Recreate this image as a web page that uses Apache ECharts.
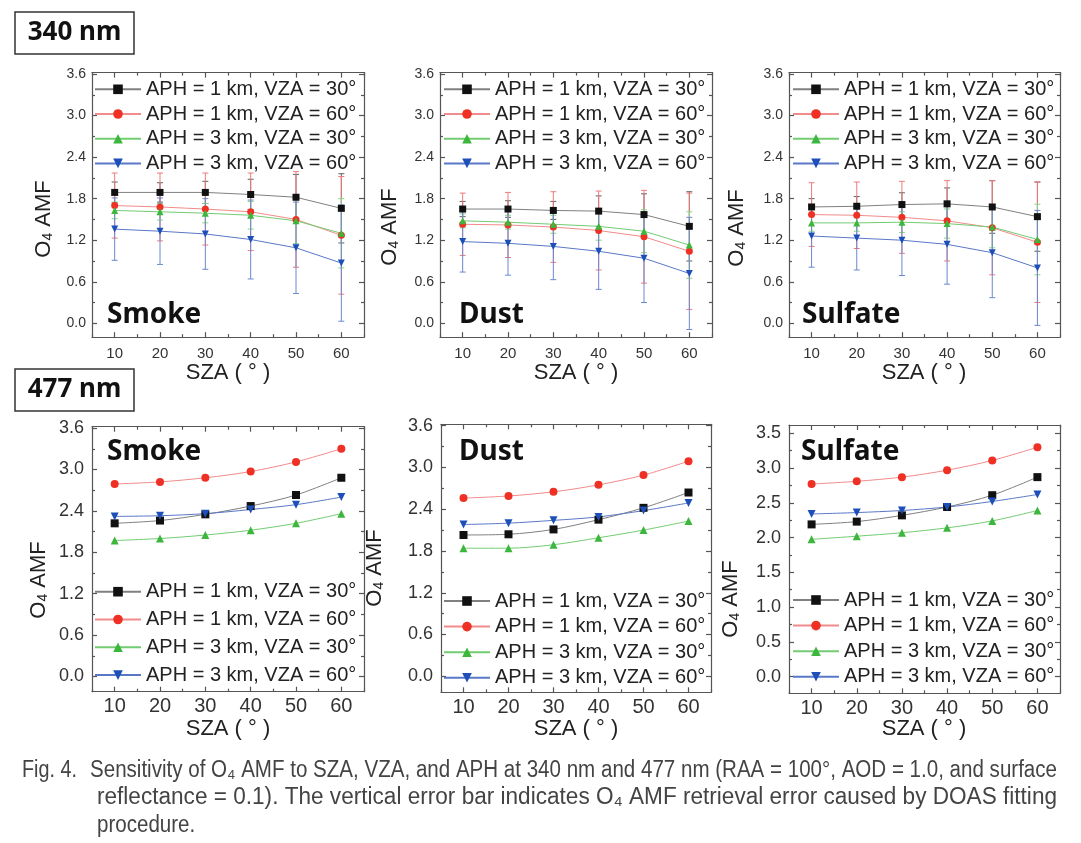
<!DOCTYPE html>
<html><head><meta charset="utf-8">
<script src="https://cdn.jsdelivr.net/npm/echarts@6/dist/echarts.min.js"></script>
<style>html,body{margin:0;padding:0;background:#fff}#c{width:1081px;height:843px}</style>
</head><body><div id="c"></div>
<script>
// ---------- data ----------
const szaValues = [10, 20, 30, 40, 50, 60];
const xMinorTicks = [5, 15, 25, 35, 45, 55, 65];
const yTicks06 = [0, 0.6, 1.2, 1.8, 2.4, 3.0, 3.6];
const yMinor06 = [0.3, 0.9, 1.5, 2.1, 2.7, 3.3];
const yTicks05 = [0, 0.5, 1.0, 1.5, 2.0, 2.5, 3.0, 3.5];
const yMinor05 = [0.25, 0.75, 1.25, 1.75, 2.25, 2.75, 3.25];
const seriesNames = ['APH = 1 km, VZA = 30°', 'APH = 1 km, VZA = 60°', 'APH = 3 km, VZA = 30°', 'APH = 3 km, VZA = 60°'];

// 340 nm – Smoke
const smoke340_1km30 = [1.89, 1.89, 1.89, 1.86, 1.82, 1.66];
const smoke340_1km60 = [1.70, 1.68, 1.65, 1.61, 1.50, 1.27];
const smoke340_3km30 = [1.63, 1.61, 1.59, 1.56, 1.48, 1.30];
const smoke340_3km60 = [1.36, 1.33, 1.29, 1.21, 1.09, 0.87];
const smoke340_1km30_err = [0.15, 0.14, 0.16, 0.22, 0.33, 0.50];
const smoke340_1km60_err = [0.47, 0.49, 0.52, 0.56, 0.69, 0.85];
const smoke340_3km30_err = [0.12, 0.12, 0.14, 0.20, 0.33, 0.50];
const smoke340_3km60_err = [0.45, 0.48, 0.51, 0.57, 0.66, 0.84];
// 340 nm – Dust
const dust340_1km30 = [1.65, 1.65, 1.63, 1.62, 1.57, 1.40];
const dust340_1km60 = [1.43, 1.42, 1.39, 1.34, 1.25, 1.04];
const dust340_3km30 = [1.48, 1.46, 1.43, 1.40, 1.33, 1.13];
const dust340_3km60 = [1.18, 1.155, 1.11, 1.04, 0.94, 0.72];
const dust340_1km30_err = [0.11, 0.12, 0.13, 0.22, 0.30, 0.50];
const dust340_1km60_err = [0.45, 0.47, 0.51, 0.57, 0.67, 0.84];
const dust340_3km30_err = [0.10, 0.10, 0.13, 0.20, 0.31, 0.48];
const dust340_3km60_err = [0.44, 0.46, 0.48, 0.55, 0.64, 0.81];
// 340 nm – Sulfate
const sulf340_1km30 = [1.68, 1.69, 1.715, 1.725, 1.68, 1.54];
const sulf340_1km60 = [1.57, 1.56, 1.53, 1.48, 1.38, 1.17];
const sulf340_3km30 = [1.45, 1.45, 1.46, 1.44, 1.39, 1.21];
const sulf340_3km60 = [1.26, 1.23, 1.20, 1.14, 1.02, 0.80];
const sulf340_1km30_err = [0.12, 0.14, 0.17, 0.23, 0.38, 0.50];
const sulf340_1km60_err = [0.46, 0.48, 0.52, 0.58, 0.68, 0.87];
const sulf340_3km30_err = [0.12, 0.12, 0.15, 0.21, 0.30, 0.51];
const sulf340_3km60_err = [0.45, 0.46, 0.51, 0.575, 0.65, 0.83];
// 477 nm
const smoke477_1km30 = [2.22, 2.26, 2.35, 2.47, 2.63, 2.88];
const smoke477_1km60 = [2.79, 2.82, 2.88, 2.97, 3.11, 3.30];
const smoke477_3km30 = [1.97, 2.00, 2.05, 2.12, 2.22, 2.36];
const smoke477_3km60 = [2.32, 2.33, 2.36, 2.42, 2.49, 2.60];
const dust477_1km30 = [2.03, 2.04, 2.11, 2.25, 2.42, 2.64];
const dust477_1km60 = [2.56, 2.59, 2.65, 2.75, 2.89, 3.09];
const dust477_3km30 = [1.84, 1.84, 1.89, 1.99, 2.10, 2.23];
const dust477_3km60 = [2.18, 2.20, 2.24, 2.29, 2.38, 2.49];
const sulf477_1km30 = [2.19, 2.23, 2.32, 2.44, 2.61, 2.87];
const sulf477_1km60 = [2.77, 2.81, 2.87, 2.97, 3.11, 3.30];
const sulf477_3km30 = [1.975, 2.02, 2.07, 2.14, 2.24, 2.39];
const sulf477_3km60 = [2.34, 2.36, 2.39, 2.44, 2.52, 2.62];

const panelLabels = ['Smoke', 'Dust', 'Sulfate', 'Smoke', 'Dust', 'Sulfate'];
const captionLine1a = 'Fig. 4.';
const captionLine1b = 'Sensitivity of O\u2084 AMF to SZA, VZA, and APH at 340 nm and 477 nm (RAA = 100°, AOD = 1.0, and surface';
const captionLine2 = 'reflectance = 0.1). The vertical error bar indicates O\u2084 AMF retrieval error caused by DOAS fitting';
const captionLine3 = 'procedure.';

// ---------- layout / style ----------
const markerColors = ['#111111', '#ee3124', '#3cb63c', '#1d4fb8'];
const lineColors = ['#808080', '#f28b8b', '#72cc72', '#5a78c8'];
const errColors = ['#606060', '#f07a7a', '#86d486', '#6a88d0'];
const symbols = ['rect', 'circle', 'triangle', 'triangle'];
const symbolRot = [0, 0, 0, 180];
const FONT = '"Liberation Sans", Arial, sans-serif';

const topY0 = 74 - 0.02 * 69.25;
const panels = [
  { grid: { left: 92, top: topY0, width: 272, height: 3.82 * 69.25 }, yMin: -0.2, yMax: 3.62, yT: yTicks06, yM: yMinor06,
    vals: [smoke340_1km30, smoke340_1km60, smoke340_3km30, smoke340_3km60],
    errs: [smoke340_1km30_err, smoke340_1km60_err, smoke340_3km30_err, smoke340_3km60_err],
    fy: 14, fx: 15, ym: 6, xm: 9, sym: 7, smooth: false,
    legend: { left: 94, top: 79.3, gap: 4.7 }, label: [107, 315], yName: [42, 219], xName: [228, 373] },
  { grid: { left: 440, top: topY0, width: 272, height: 3.82 * 69.25 }, yMin: -0.2, yMax: 3.62, yT: yTicks06, yM: yMinor06,
    vals: [dust340_1km30, dust340_1km60, dust340_3km30, dust340_3km60],
    errs: [dust340_1km30_err, dust340_1km60_err, dust340_3km30_err, dust340_3km60_err],
    fy: 14, fx: 15, ym: 6, xm: 9, sym: 7, smooth: false,
    legend: { left: 443, top: 79.3, gap: 4.7 }, label: [459, 315], yName: [388, 227], xName: [576, 373] },
  { grid: { left: 789, top: topY0, width: 271, height: 3.82 * 69.25 }, yMin: -0.2, yMax: 3.62, yT: yTicks06, yM: yMinor06,
    vals: [sulf340_1km30, sulf340_1km60, sulf340_3km30, sulf340_3km60],
    errs: [sulf340_1km30_err, sulf340_1km60_err, sulf340_3km30_err, sulf340_3km60_err],
    fy: 14, fx: 15, ym: 6, xm: 9, sym: 7, smooth: false,
    legend: { left: 792, top: 79.3, gap: 4.7 }, label: [802, 315], yName: [735, 228], xName: [924, 373] },
  { grid: { left: 92, top: 426.7, width: 272, height: 265 }, yMin: -0.22, yMax: 3.62, yT: yTicks06, yM: yMinor06,
    vals: [smoke477_1km30, smoke477_1km60, smoke477_3km30, smoke477_3km60], errs: null,
    fy: 18, fx: 20, ym: 8, xm: 5, sym: 8, smooth: 0.3,
    legend: { left: 94, top: 581.7, gap: 7.8 }, label: [107, 452], yName: [37, 580], xName: [228, 729] },
  { grid: { left: 441, top: 424.3, width: 270, height: 268 }, yMin: -0.23, yMax: 3.62, yT: yTicks06, yM: yMinor06,
    vals: [dust477_1km30, dust477_1km60, dust477_3km30, dust477_3km60], errs: null,
    fy: 18, fx: 20, ym: 8, xm: 5, sym: 8, smooth: 0.3,
    legend: { left: 443, top: 591, gap: 5.6 }, label: [459, 452], yName: [373, 568], xName: [576, 729] },
  { grid: { left: 789, top: 425, width: 271, height: 268.3 }, yMin: -0.24, yMax: 3.62, yT: yTicks05, yM: yMinor05,
    vals: [sulf477_1km30, sulf477_1km60, sulf477_3km30, sulf477_3km60], errs: null,
    fy: 18, fx: 20, ym: 8, xm: 5, sym: 8, smooth: 0.3,
    legend: { left: 792, top: 590, gap: 5.6 }, label: [801, 452], yName: [729, 599], xName: [924, 729] }
];

const axisLine = { color: '#555', width: 1.2 };
const grids = [], xAxes = [], yAxes = [], series = [], legends = [], graphics = [];

panels.forEach((p, gi) => {
  grids.push(Object.assign({ containLabel: false }, p.grid));
  const xBase = { gridIndex: gi, type: 'value', min: 5, max: 65, splitLine: { show: false } };
  const mainX = xAxes.length;
  xAxes.push(Object.assign({}, xBase, { position: 'bottom',
    axisLine: { show: true, onZero: false, lineStyle: axisLine },
    axisTick: { show: true, inside: true, length: 5, customValues: szaValues, lineStyle: axisLine },
    axisLabel: { show: true, customValues: szaValues, fontSize: p.fx, color: '#333', margin: p.xm, fontFamily: FONT } }));
  xAxes.push(Object.assign({}, xBase, { position: 'bottom', axisLine: { show: false, onZero: false },
    axisTick: { show: true, inside: true, length: 3, customValues: xMinorTicks, lineStyle: axisLine }, axisLabel: { show: false } }));
  xAxes.push(Object.assign({}, xBase, { position: 'top', axisLine: { show: true, onZero: false, lineStyle: axisLine },
    axisTick: { show: true, inside: true, length: 5, customValues: szaValues, lineStyle: axisLine }, axisLabel: { show: false } }));
  xAxes.push(Object.assign({}, xBase, { position: 'top', axisLine: { show: false, onZero: false },
    axisTick: { show: true, inside: true, length: 3, customValues: xMinorTicks, lineStyle: axisLine }, axisLabel: { show: false } }));

  const yBase = { gridIndex: gi, type: 'value', min: p.yMin, max: p.yMax, splitLine: { show: false } };
  const mainY = yAxes.length;
  yAxes.push(Object.assign({}, yBase, { position: 'left',
    axisLine: { show: true, onZero: false, lineStyle: axisLine },
    axisTick: { show: true, inside: true, length: 5, customValues: p.yT, lineStyle: axisLine },
    axisLabel: { show: true, customValues: p.yT, fontSize: p.fy, color: '#333', margin: p.ym, fontFamily: FONT,
      formatter: v => Number(v).toFixed(1) } }));
  yAxes.push(Object.assign({}, yBase, { position: 'left', axisLine: { show: false, onZero: false },
    axisTick: { show: true, inside: true, length: 3, customValues: p.yM, lineStyle: axisLine }, axisLabel: { show: false } }));
  yAxes.push(Object.assign({}, yBase, { position: 'right', axisLine: { show: true, onZero: false, lineStyle: axisLine },
    axisTick: { show: true, inside: true, length: 5, customValues: p.yT, lineStyle: axisLine }, axisLabel: { show: false } }));
  yAxes.push(Object.assign({}, yBase, { position: 'right', axisLine: { show: false, onZero: false },
    axisTick: { show: true, inside: true, length: 3, customValues: p.yM, lineStyle: axisLine }, axisLabel: { show: false } }));

  p.vals.forEach((v, k) => {
    if (p.errs) {
      const e = p.errs[k];
      const col = errColors[k];
      series.push({
        type: 'custom', name: 'err' + gi + '_' + k, xAxisIndex: mainX, yAxisIndex: mainY, z: 1, silent: true,
        data: szaValues.map((x, i) => [x, v[i] - e[i], v[i] + e[i]]),
        renderItem: (params, api) => {
          const x = api.value(0);
          const lo = api.coord([x, api.value(1)]);
          const hi = api.coord([x, api.value(2)]);
          const st = { stroke: col, lineWidth: 1 };
          return { type: 'group', children: [
            { type: 'line', shape: { x1: lo[0], y1: lo[1], x2: hi[0], y2: hi[1] }, style: st },
            { type: 'line', shape: { x1: lo[0] - 3, y1: lo[1], x2: lo[0] + 3, y2: lo[1] }, style: st },
            { type: 'line', shape: { x1: hi[0] - 3, y1: hi[1], x2: hi[0] + 3, y2: hi[1] }, style: st }
          ] };
        }
      });
    }
    series.push({
      type: 'line', name: seriesNames[k], xAxisIndex: mainX, yAxisIndex: mainY, z: 3,
      data: szaValues.map((x, i) => [x, v[i]]),
      symbol: symbols[k], symbolRotate: symbolRot[k], symbolSize: p.sym, showAllSymbol: true,
      smooth: p.smooth,
      itemStyle: { color: markerColors[k] },
      lineStyle: { color: lineColors[k], width: 1 },
      emphasis: { disabled: true }
    });
  });

  legends.push({
    left: p.legend.left, top: p.legend.top, orient: 'vertical', padding: 0,
    itemWidth: 46, itemHeight: 12, itemGap: p.legend.gap, selectedMode: false,
    textStyle: { fontSize: 20, lineHeight: 20, color: '#222', fontFamily: FONT },
    data: seriesNames
  });

  graphics.push({ type: 'text', x: p.label[0], y: p.label[1], z: 10,
    style: { text: panelLabels[gi], font: 'bold 28px "Noto Sans", sans-serif', fill: '#111', verticalAlign: 'middle', align: 'left' } });
  graphics.push({ type: 'text', x: p.yName[0], y: p.yName[1], rotation: Math.PI / 2, z: 10,
    style: { text: '{a|O}{b|4}{a| AMF}', align: 'center', verticalAlign: 'middle',
      rich: { a: { fontSize: 22, fontFamily: FONT, fill: '#222', lineHeight: 26, verticalAlign: 'bottom' },
              b: { fontSize: 14, fontFamily: FONT, fill: '#222', lineHeight: 26, verticalAlign: 'bottom', padding: [8, 0, 0, 0] } } } });
  graphics.push({ type: 'text', x: p.xName[0], y: p.xName[1], z: 10,
    style: { text: 'SZA ( ° )', font: '22px ' + FONT, fill: '#222', align: 'center', verticalAlign: 'middle' } });
});

// wavelength boxes
[['340 nm', 12], ['477 nm', 369]].forEach(([t, y]) => {
  graphics.push({ type: 'rect', shape: { x: 15, y: y, width: 119, height: 42 }, style: { fill: '#fff', stroke: '#333', lineWidth: 1.5 }, z: 9 });
  graphics.push({ type: 'text', x: 74.5, y: y + 21, z: 10,
    style: { text: t, font: 'bold 26px "Noto Sans", sans-serif', fill: '#111', align: 'center', verticalAlign: 'middle' } });
});

// caption with width fitting (condensed look)
const capFont = '23px "Liberation Sans Narrow", "Liberation Sans", Arial, sans-serif';
const mctx = document.createElement('canvas').getContext('2d');
mctx.font = capFont;
function fitScale(txt, w) { return w / mctx.measureText(txt).width; }
const s1 = fitScale(captionLine1b, 1057 - 90);
const s2 = fitScale(captionLine2, 1057 - 97);
const s0 = fitScale(captionLine1a, 77 - 22);
[[captionLine1a, 22, 771, s0], [captionLine1b, 90, 771, s1], [captionLine2, 97, 798, s2], [captionLine3, 97, 826, s1]].forEach(([t, x, y, s]) => {
  graphics.push({ type: 'text', x: x, y: y, scaleX: s, z: 10,
    style: { text: t, font: capFont, fill: '#444', align: 'left', verticalAlign: 'middle' } });
});

const chart = echarts.init(document.getElementById('c'), null, { renderer: 'canvas' });
chart.setOption({
  animation: false,
  backgroundColor: '#ffffff',
  grid: grids, xAxis: xAxes, yAxis: yAxes, series: series, legend: legends, graphic: graphics
});
</script></body></html>
